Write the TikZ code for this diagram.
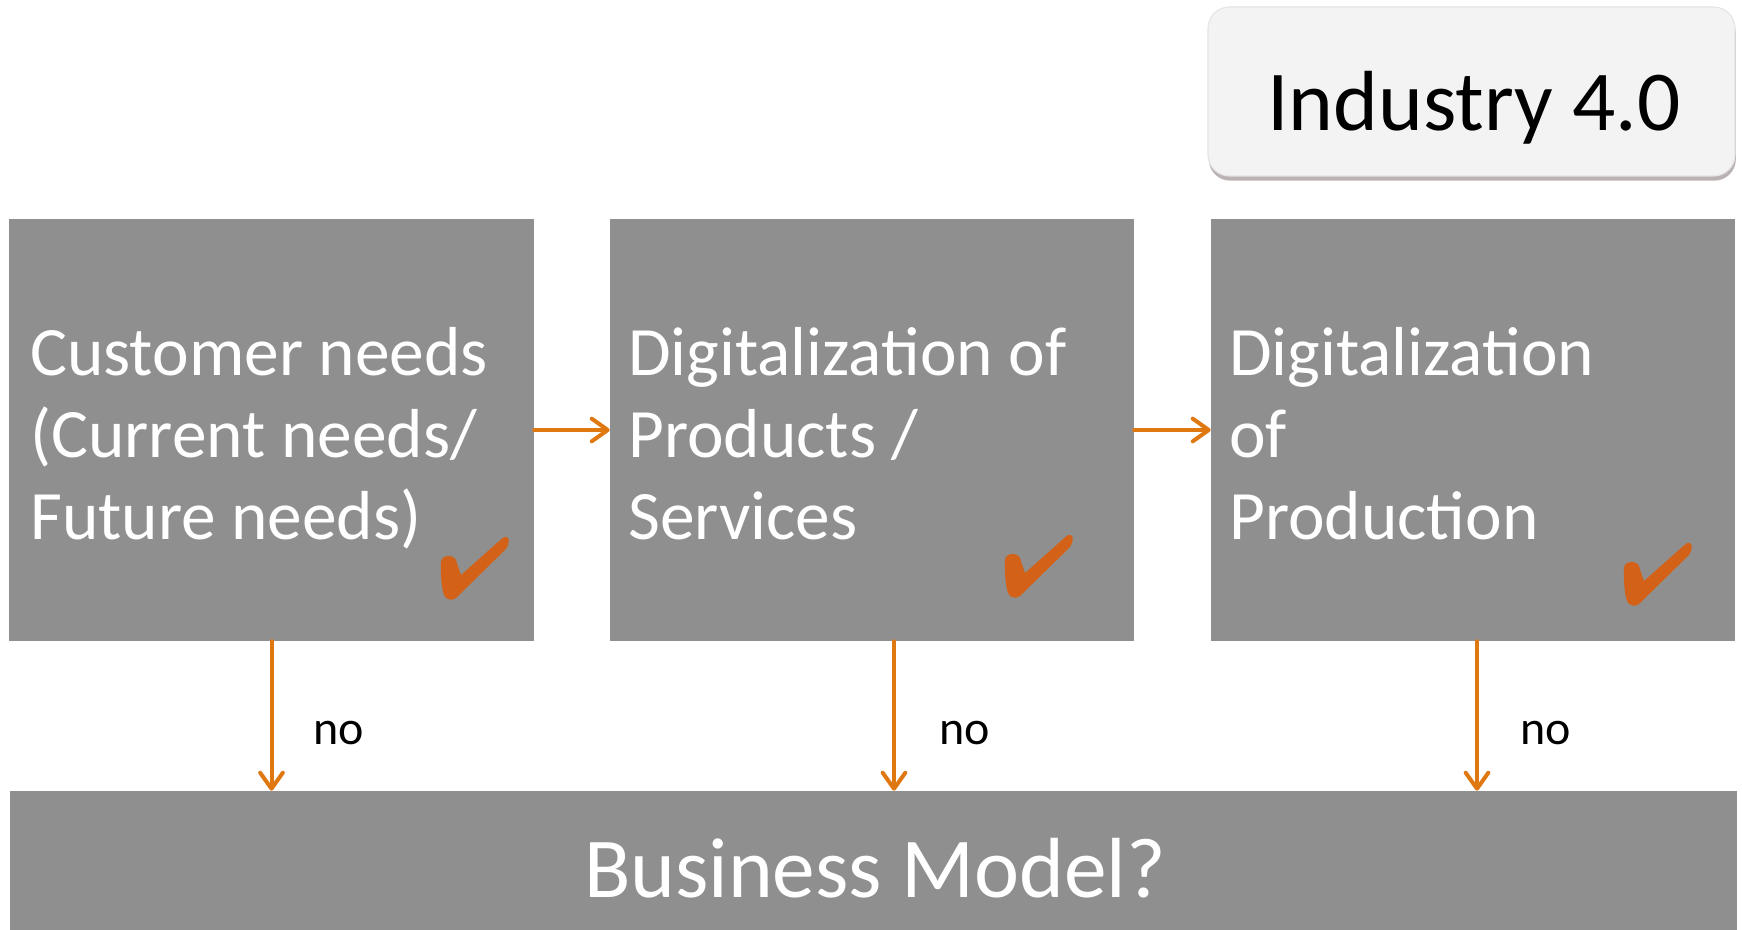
\documentclass[tikz,border=0pt]{standalone}
\usepackage{fontspec}
\setmainfont{Carlito}
\usetikzlibrary{arrows.meta,shadows}

\definecolor{boxgray}{RGB}{143,143,143}
\definecolor{arrowc}{RGB}{224,120,18}
\definecolor{tickc}{RGB}{211,98,24}
\definecolor{paleface}{RGB}{243,243,243}
\definecolor{shadowc}{RGB}{120,105,105}

\tikzset{
  graybox/.style={rectangle, fill=boxgray, draw=none, inner sep=0pt},
  boxtext/.style={anchor=base west, inner sep=0pt, text=white, font=\fontsize{52pt}{61.5pt}\selectfont},
  nolabel/.style={anchor=base west, inner sep=0pt, font=\fontsize{36pt}{44pt}\selectfont},
  flow/.style={draw=arrowc, line width=3pt, line cap=round,
    -{Straight Barb[length=12pt, width=17pt, line cap=round, line join=round]}},
  tick/.pic={
    \fill[tickc] (20.9,52.2) .. controls (21,47) and (27,45) .. (31.3,46.3)
      .. controls (35,47.5) and (36.5,50) .. (37.2,54)
      -- (41,65)
      -- (82,28.5)
      .. controls (84.5,25.8) and (89,26.5) .. (88.8,30.5)
      .. controls (88.6,34) and (87.8,36.8) .. (86,39)
      -- (36.5,87.5)
      .. controls (33.5,90.8) and (27.5,90.5) .. (24.8,86.5)
      .. controls (21.2,80.5) and (20.6,62) .. (20.9,52.2) -- cycle;
  }
}

\begin{document}
\begin{tikzpicture}[x=0.75pt, y=-0.75pt]
  \useasboundingbox (0,0) rectangle (1742,930);
  \fill[white] (0,0) rectangle (1742,930);

  % label box in the upper right corner
  \node[rectangle, rounded corners=16pt, fill=paleface, draw={rgb,255:red,228;green,228;blue,228}, line width=0.8pt,
        minimum width=395.25pt, minimum height=126.75pt, inner sep=0pt,
        drop shadow={shadow xshift=0.6pt, shadow yshift=-3.5pt, fill=shadowc, opacity=0.5}]
        (ind) at (1471.5,91.5) {};
  \node[anchor=base, inner sep=0pt, font=\fontsize{64pt}{77pt}\selectfont] (indtext) at (1474,131) {Industry 4.0};

  % three stage boxes
  \node[graybox, minimum width=393.75pt, minimum height=316.5pt] (b1) at (271.5,430) {};
  \node[graybox, minimum width=393pt, minimum height=316.5pt] (b2) at (872,430) {};
  \node[graybox, minimum width=393pt, minimum height=316.5pt] (b3) at (1473,430) {};

  % bottom box
  \node[graybox, minimum width=1295.25pt, minimum height=104.25pt] (bm) at (873.5,860.5) {};
  \node[anchor=base, inner sep=0pt, text=white, font=\fontsize{64pt}{77pt}\selectfont] (bmtext) at (875,897) {Business Model?};

  % box texts
  \node[boxtext] (t1) at (30,376) {\parbox[t]{480pt}{\raggedright Customer needs\\(Current needs/\\Future needs)}};
  \node[boxtext] (t2) at (628,376) {\parbox[t]{480pt}{\raggedright Digitalization of\\Products /\\Services}};
  \node[boxtext] (t3) at (1229,376) {\parbox[t]{480pt}{\raggedright Digitalization\\of\\Production}};

  % check marks
  \pic at (420,510) {tick};
  \pic at (984,508) {tick};
  \pic at (1603,516) {tick};

  % horizontal flow
  \draw[flow] (b1.east) -- (b2.west);
  \draw[flow] (b2.east) -- (b3.west);

  % downward flow to the business model box
  \coordinate (c2) at (894,0);
  \coordinate (c3) at (1477,0);
  \draw[flow] (b1.south) -- (b1.south |- bm.north);
  \draw[flow] (b2.south -| c2) -- (bm.north -| c2);
  \draw[flow] (b3.south -| c3) -- (bm.north -| c3);

  \node[nolabel] (no1) at (313,744) {no};
  \node[nolabel] (no2) at (939,744) {no};
  \node[nolabel] (no3) at (1520,744) {no};
\end{tikzpicture}
\end{document}
